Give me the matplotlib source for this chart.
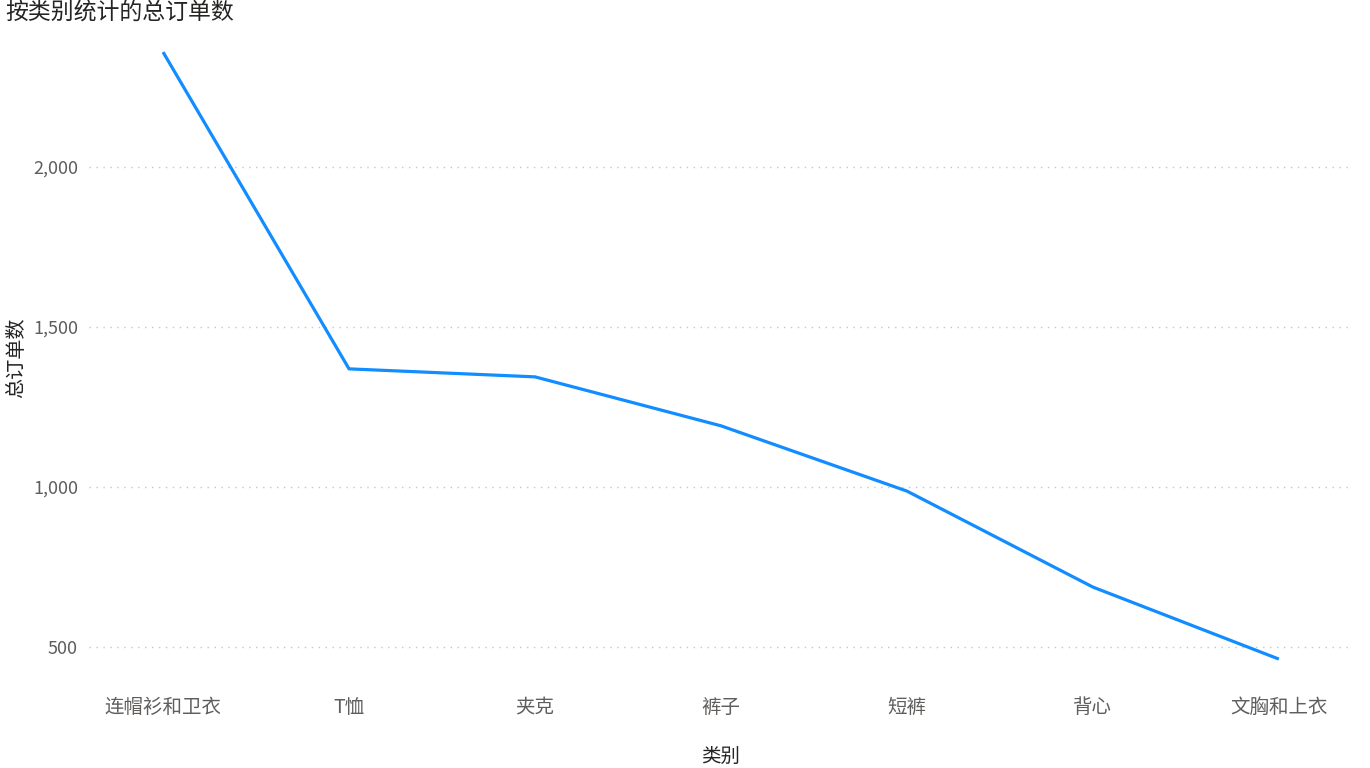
import matplotlib
matplotlib.use('Agg')
import matplotlib.pyplot as plt
from matplotlib.ticker import FuncFormatter

plt.rcParams['font.family'] = ['Noto Sans CJK SC', 'DejaVu Sans']

# 数据
categories = ['连帽衫和卫衣', 'T恤', '夹克', '裤子', '短裤', '背心', '文胸和上衣']
orders = [2359, 1369, 1344, 1191, 987, 687, 462]
y_ticks = [500, 1000, 1500, 2000]

fig = plt.figure(figsize=(13.7, 7.68), dpi=100)
ax = fig.add_axes([0.065, 0.121, 0.9225, 0.827])

x = list(range(len(categories)))
ax.plot(x, orders, color='#118DFF', linewidth=2.3, solid_capstyle='butt')

ax.set_xlim(-0.398, len(categories) - 1 + 0.398)
ax.set_ylim(412, 2397)
ax.set_yticks(y_ticks)
ax.yaxis.set_major_formatter(FuncFormatter(lambda v, p: f'{int(v):,}'))
ax.set_xticks(x)
ax.set_xticklabels(categories)

ax.grid(axis='y', linestyle=(0, (1, 4)), color='#C8C6C4', linewidth=1)
ax.set_axisbelow(True)
for s in ax.spines.values():
    s.set_visible(False)
ax.tick_params(axis='both', length=0, colors='#605E5C')
ax.tick_params(axis='y', pad=8, labelsize=13)
ax.tick_params(axis='x', pad=16, labelsize=14)

ax.set_xlabel('类别', fontsize=14, color='#252423', labelpad=20)
ax.set_ylabel('总订单数', fontsize=14.5, color='#252423', labelpad=4)

fig.text(0.004, 0.984, '按类别统计的总订单数', fontsize=16.5, color='#252423',
         ha='left', va='center')

fig.savefig('out.png', dpi=100, facecolor='white')
